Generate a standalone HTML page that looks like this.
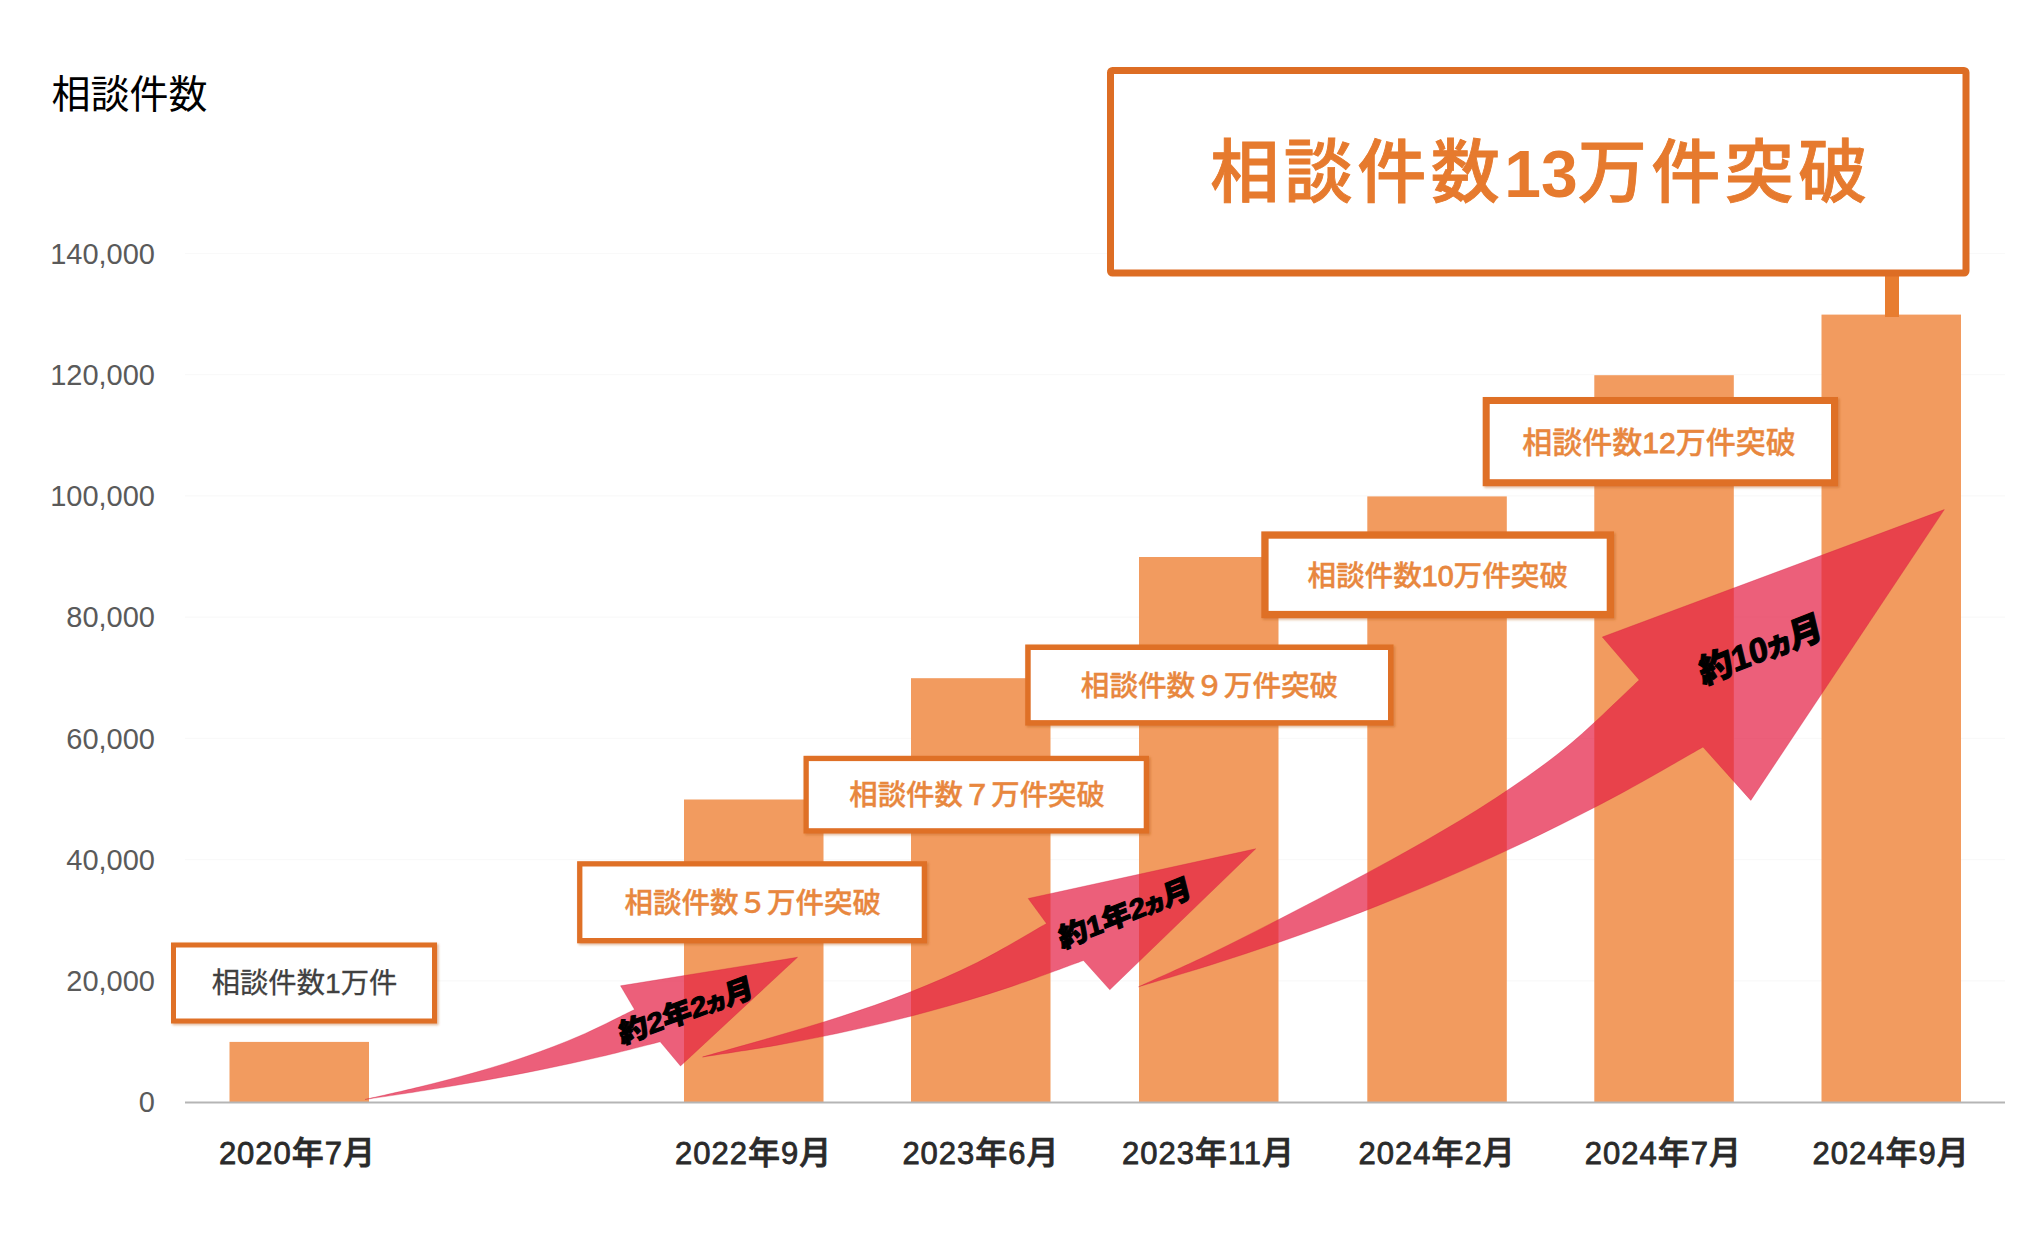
<!DOCTYPE html>
<html lang="ja">
<head>
<meta charset="utf-8">
<title>相談件数</title>
<style>
html,body{margin:0;padding:0;background:#fff;}
body{width:2040px;height:1242px;overflow:hidden;position:relative;}
svg{position:absolute;left:0;top:0;display:block;}
text{font-family:"Liberation Sans","Noto Sans CJK JP",sans-serif;}
.ylab{font-size:29px;fill:#5a5a5a;text-anchor:end;}
.xlab{font-size:31px;letter-spacing:1px;font-weight:500;fill:#2a2a2a;stroke:#2a2a2a;stroke-width:.8px;text-anchor:middle;}
.xlab .k{font-size:32px;}
.bar{fill:#f29b5f;}
.box{fill:#fff;stroke:#df7027;}
.btxt{font-weight:500;fill:#e8873e;stroke:#e8873e;stroke-width:.35px;text-anchor:middle;}
.arrow{fill:#e41e44;fill-opacity:.71;stroke:#d01f3c;stroke-opacity:.3;stroke-width:1px;}
.atxt{font-weight:900;fill:#000;stroke:#000;stroke-width:1.1px;stroke-linejoin:round;text-anchor:middle;}
</style>
</head>
<body>
<svg width="2040" height="1242" viewBox="0 0 2040 1242">
<defs>
<filter id="sh" x="-5%" y="-10%" width="110%" height="125%">
<feDropShadow dx="1.5" dy="1.5" stdDeviation="1.2" flood-color="#b85a1c" flood-opacity=".45"/>
</filter>
</defs>
<rect width="2040" height="1242" fill="#fff"/>

<!-- title -->
<text x="51.5" y="108" font-size="39" fill="#000">相談件数</text>

<!-- gridlines -->
<g stroke="#f9f9f9" stroke-width="1.2">
<line x1="185" x2="2005" y1="980.8" y2="980.8"/>
<line x1="185" x2="2005" y1="859.6" y2="859.6"/>
<line x1="185" x2="2005" y1="738.4" y2="738.4"/>
<line x1="185" x2="2005" y1="617.1" y2="617.1"/>
<line x1="185" x2="2005" y1="495.9" y2="495.9"/>
<line x1="185" x2="2005" y1="374.7" y2="374.7"/>
<line x1="185" x2="2005" y1="253.5" y2="253.5"/>
</g>

<!-- y labels -->
<g class="ylab">
<text x="155" y="263.7">140,000</text>
<text x="155" y="384.9">120,000</text>
<text x="155" y="506.1">100,000</text>
<text x="155" y="627.3">80,000</text>
<text x="155" y="748.6">60,000</text>
<text x="155" y="869.8">40,000</text>
<text x="155" y="991.0">20,000</text>
<text x="155" y="1112.2">0</text>
</g>

<!-- bars -->
<g class="bar">
<rect x="229.5" y="1041.9" width="139.5" height="60.1"/>
<rect x="684.0" y="799.5" width="139.5" height="302.5"/>
<rect x="911.0" y="678.2" width="139.5" height="423.8"/>
<rect x="1139.0" y="557.0" width="139.5" height="545.0"/>
<rect x="1367.3" y="496.4" width="139.5" height="605.6"/>
<rect x="1594.3" y="375.2" width="139.5" height="726.8"/>
<rect x="1821.5" y="314.6" width="139.5" height="787.4"/>
</g>

<!-- axis -->
<line x1="185" x2="2005" y1="1102.5" y2="1102.5" stroke="#b5b5b5" stroke-width="2"/>

<!-- x labels -->
<g class="xlab">
<text x="297.5" y="1164">2020<tspan class="k">年</tspan>7<tspan class="k">月</tspan></text>
<text x="753.7" y="1164">2022<tspan class="k">年</tspan>9<tspan class="k">月</tspan></text>
<text x="981.0" y="1164">2023<tspan class="k">年</tspan>6<tspan class="k">月</tspan></text>
<text x="1208.5" y="1164">2023<tspan class="k">年</tspan>11<tspan class="k">月</tspan></text>
<text x="1437.2" y="1164">2024<tspan class="k">年</tspan>2<tspan class="k">月</tspan></text>
<text x="1663.4" y="1164">2024<tspan class="k">年</tspan>7<tspan class="k">月</tspan></text>
<text x="1891.2" y="1164">2024<tspan class="k">年</tspan>9<tspan class="k">月</tspan></text>
</g>

<!-- big box connector -->
<rect x="1885" y="272" width="14" height="45" fill="#e87d30"/>

<!-- boxes -->
<g filter="url(#sh)">
<rect class="box" x="173.50" y="945.00" width="261.00" height="76.00" stroke-width="5.0"/>
<rect class="box" x="579.75" y="863.85" width="344.60" height="76.80" stroke-width="5.3"/>
<rect class="box" x="806.15" y="758.45" width="340.20" height="72.40" stroke-width="5.3"/>
<rect class="box" x="1027.95" y="647.25" width="362.80" height="75.60" stroke-width="5.5"/>
<rect class="box" x="1264.95" y="535.05" width="345.40" height="79.50" stroke-width="7.3"/>
<rect class="box" x="1486.20" y="400.50" width="348.30" height="82.20" stroke-width="7.0"/>
</g>
<rect class="box" x="1110.5" y="70.5" width="855.5" height="202.5" rx="2" stroke-width="7" style="stroke:#dd6d24"/>

<!-- box texts -->
<text x="304.5" y="993" font-size="28.3" fill="#404040" stroke="#404040" stroke-width=".3" text-anchor="middle">相談件数1万件</text>
<g class="btxt">
<text x="752.8" y="912.6" font-size="28.5">相談件数５万件突破</text>
<text x="977.1" y="805.3" font-size="28.4">相談件数７万件突破</text>
<text x="1209.5" y="696.0" font-size="28.6">相談件数９万件突破</text>
<text x="1437.7" y="585.8" font-size="28.6">相談件数<tspan stroke-width=".9">10</tspan>万件突破</text>
<text x="1659.0" y="453.2" font-size="30.0">相談件数<tspan stroke-width=".9">12</tspan>万件突破</text>
</g>
<text x="1541" y="197" font-size="69" font-weight="500" fill="#e67a2e" stroke="#e67a2e" stroke-width=".9" letter-spacing="4.5" text-anchor="middle">相談件数<tspan font-size="66" font-weight="bold" letter-spacing="0" stroke-width="0">13</tspan>万件突破</text>

<!-- arrows -->
<path class="arrow" d="M365.0,1099.5 C374.0,1097.4 400.9,1091.5 418.9,1087.1 C436.9,1082.6 454.8,1078.2 472.8,1073.1 C490.8,1067.9 508.7,1062.6 526.7,1056.3 C544.7,1050.0 562.6,1043.3 580.6,1035.5 C598.6,1027.7 625.5,1013.8 634.5,1009.5 L620.5,985.8 L797.5,957.3 L680.5,1066.0 L660.2,1041.8 C650.4,1044.3 620.8,1052.0 601.2,1056.6 C581.5,1061.2 561.8,1065.5 542.1,1069.5 C522.4,1073.5 502.8,1077.2 483.1,1080.7 C463.4,1084.2 443.7,1087.5 424.0,1090.6 C404.4,1093.8 374.8,1098.0 365.0,1099.5 Z"/>
<path class="arrow" d="M702.5,1057.0 C714.0,1053.7 748.4,1044.2 771.3,1037.5 C794.2,1030.8 817.2,1024.3 840.1,1016.8 C863.0,1009.3 886.0,1001.7 908.9,992.6 C931.8,983.5 954.8,973.8 977.7,962.3 C1000.6,950.8 1035.0,930.0 1046.5,923.5 L1028.2,898.5 L1255.7,848.8 L1109.8,989.8 L1083.5,960.5 C1070.8,965.1 1032.7,979.5 1007.3,987.9 C981.9,996.3 956.5,1003.9 931.1,1010.8 C905.7,1017.8 880.3,1024.0 854.9,1029.6 C829.5,1035.3 804.1,1040.3 778.7,1044.9 C753.3,1049.4 715.2,1055.0 702.5,1057.0 Z"/>
<path class="arrow" d="M1138.5,986.8 C1150.4,981.3 1186.2,965.5 1210.0,954.0 C1233.9,942.5 1257.7,930.2 1281.6,918.0 C1305.4,905.7 1329.2,893.3 1353.1,880.5 C1376.9,867.7 1400.8,854.9 1424.6,841.2 C1448.5,827.4 1472.3,813.6 1496.1,797.8 C1520.0,781.9 1543.8,765.7 1567.7,746.1 C1591.5,726.5 1627.3,691.0 1639.2,680.0 L1602.3,637.0 L1944.3,509.6 L1750.8,800.4 L1703.0,747.0 C1689.6,754.6 1649.2,778.2 1622.4,792.7 C1595.5,807.2 1568.6,820.8 1541.7,833.9 C1514.8,847.0 1488.0,859.3 1461.1,871.1 C1434.2,882.9 1407.3,894.0 1380.4,904.7 C1353.5,915.4 1326.7,925.4 1299.8,935.0 C1272.9,944.6 1246.0,953.7 1219.1,962.3 C1192.3,971.0 1151.9,982.7 1138.5,986.8 Z"/>

<!-- arrow texts -->
<text class="atxt" font-size="27.5" transform="translate(686,1010.5) rotate(-20) skewX(-8) scale(1.08,1)" y="10">約2年2<tspan dx="-2.5" font-size="23">ヵ</tspan><tspan dx="-2.5">月</tspan></text>
<text class="atxt" font-size="27.5" transform="translate(1125,912.8) rotate(-22) skewX(-8) scale(1.08,1)" y="10">約1年2<tspan dx="-2.5" font-size="23">ヵ</tspan><tspan dx="-2.5">月</tspan></text>
<text class="atxt" font-size="34" transform="translate(1760.5,649) rotate(-21.5) skewX(-8) scale(1.01,1)" y="12.2">約10<tspan dx="-3" font-size="30">ヵ</tspan><tspan dx="-3.5">月</tspan></text>
</svg>
</body>
</html>
